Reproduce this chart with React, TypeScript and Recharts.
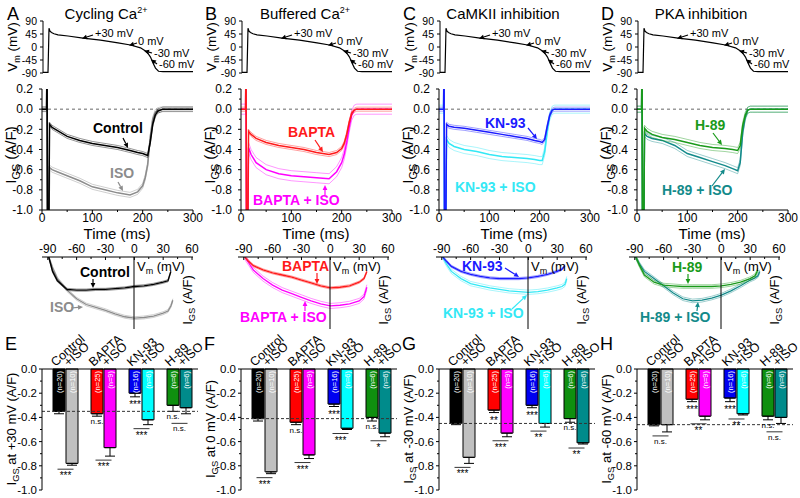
import React from 'react';
import { LineChart, Line, XAxis, YAxis, BarChart, Bar, Cell, ErrorBar, ReferenceLine, LabelList } from 'recharts';

const FONT = 'Arial, "Liberation Sans", Helvetica, sans-serif';

// ---------- action potential clamp waveform (same for all columns) ----------
const apTime = [0, 10, 12, 14, 17, 22, 30, 50, 80, 115, 150, 175, 195, 205, 210, 215, 220, 225, 231, 240, 300];
const apVm = [-88, -88, 65, 55, 50, 46, 42, 38, 31, 24, 14, 7, -3, -14, -22, -35, -55, -73, -84, -85, -85];

// ---------- I_GS time courses (A/F) ----------
const traceTime = [0, 9, 10, 11, 13, 15, 20, 30, 50, 75, 100, 125, 150, 175, 190, 200, 205, 210, 215, 220, 225, 230, 240, 260, 300];
const ctrlTrace = [0, 0, 0.5, -1.5, -1.5, -0.15, -0.18, -0.21, -0.27, -0.31, -0.34, -0.36, -0.38, -0.41, -0.43, -0.44, -0.45, -0.46, -0.33, -0.15, -0.06, -0.02, 0, 0, 0];
const isoTrace = [0, 0, 0.5, -1.5, -1.5, -0.58, -0.6, -0.62, -0.66, -0.71, -0.77, -0.8, -0.83, -0.85, -0.82, -0.76, -0.68, -0.55, -0.28, -0.1, -0.03, -0.01, 0, 0, 0];
const baptaTrace = [0, 0, 0.5, -1.5, -1.5, -0.22, -0.25, -0.29, -0.33, -0.36, -0.38, -0.4, -0.43, -0.45, -0.43, -0.39, -0.34, -0.25, -0.13, -0.04, -0.01, 0, 0, 0, 0];
const baptaIsoTrace = [0, 0, 0.5, -1.5, -1.5, -0.38, -0.45, -0.53, -0.6, -0.64, -0.66, -0.67, -0.68, -0.69, -0.62, -0.53, -0.45, -0.33, -0.18, -0.06, -0.01, 0, 0, 0, 0];
const knTrace = [0, 0, 0.5, -1.5, -1.5, -0.15, -0.17, -0.18, -0.19, -0.21, -0.23, -0.25, -0.27, -0.29, -0.31, -0.32, -0.33, -0.3, -0.17, -0.06, -0.01, 0, 0, 0, 0];
const knIsoTrace = [0, 0, 0.5, -1.5, -1.5, -0.3, -0.34, -0.37, -0.4, -0.42, -0.45, -0.47, -0.48, -0.49, -0.5, -0.51, -0.51, -0.42, -0.22, -0.07, -0.01, 0, 0, 0, 0];
const h89Trace = [0, 0, 0.5, -1.5, -1.5, -0.19, -0.22, -0.25, -0.28, -0.3, -0.33, -0.36, -0.38, -0.39, -0.4, -0.41, -0.36, -0.16, -0.06, -0.01, 0, 0, 0, 0, 0];
const h89IsoTrace = [0, 0, 0.5, -1.5, -1.5, -0.24, -0.27, -0.29, -0.31, -0.36, -0.44, -0.48, -0.52, -0.56, -0.59, -0.61, -0.53, -0.23, -0.08, -0.01, 0, 0, 0, 0, 0];

// ---------- I-V relations ----------
const ivVm = [40, 38, 35, 30, 20, 10, 0, -10, -20, -30, -40, -50, -60, -70, -80, -85, -89];
const ivCtrl = [null, -0.2, -0.33, -0.35, -0.38, -0.4, -0.41, -0.43, -0.44, -0.45, -0.45, -0.46, -0.46, -0.45, -0.33, -0.2, 0];
const ivIso = [-0.6, -0.68, -0.75, -0.78, -0.82, -0.84, -0.85, -0.83, -0.79, -0.74, -0.7, -0.66, -0.58, -0.46, -0.3, -0.15, 0];
const ivBapta = [null, -0.2, -0.3, -0.35, -0.4, -0.42, -0.43, -0.4, -0.36, -0.32, -0.28, -0.25, -0.22, -0.18, -0.12, -0.06, 0];
const ivBaptaIso = [null, -0.42, -0.55, -0.61, -0.65, -0.67, -0.68, -0.65, -0.61, -0.56, -0.51, -0.46, -0.39, -0.3, -0.18, -0.08, 0];
const ivKn = [null, -0.12, -0.17, -0.2, -0.24, -0.27, -0.29, -0.3, -0.3, -0.3, -0.29, -0.27, -0.24, -0.2, -0.13, -0.06, 0];
const ivKnIso = [-0.3, -0.38, -0.41, -0.43, -0.46, -0.48, -0.49, -0.48, -0.47, -0.45, -0.43, -0.4, -0.37, -0.3, -0.2, -0.1, 0];
const ivH89 = [null, -0.18, -0.26, -0.3, -0.35, -0.38, -0.4, -0.41, -0.41, -0.41, -0.41, -0.4, -0.39, -0.35, -0.25, -0.12, 0];
const ivH89Iso = [-0.2, -0.26, -0.29, -0.32, -0.4, -0.47, -0.53, -0.57, -0.6, -0.61, -0.58, -0.5, -0.4, -0.3, -0.2, -0.1, 0];

// ---------- bar summaries ----------
const barGroups = ['Control', 'BAPTA', 'KN-93', 'H-89'];
const nBase = [20, 25, 16, 6];
const nIso = [10, 9, 6, 6];

const p30Base = [-0.35, -0.37, -0.2, -0.3];
const p30BaseErr = [0.02, 0.02, 0.03, 0.05];
const p30Iso = [-0.78, -0.65, -0.42, -0.32];
const p30IsoErr = [0.015, 0.07, 0.04, 0.05];
const p30BaseSig = ['', 'n.s.', '***', 'n.s.'];
const p30IsoSig = ['***', '***', '***', 'n.s.'];

const z0Base = [-0.41, -0.44, -0.29, -0.4];
const z0BaseErr = [0.02, 0.02, 0.02, 0.03];
const z0Iso = [-0.85, -0.71, -0.49, -0.53];
const z0IsoErr = [0.015, 0.03, 0.01, 0.03];
const z0BaseSig = ['', 'n.s.', '***', 'n.s.'];
const z0IsoSig = ['***', '***', '***', '*'];

const m30Base = [-0.45, -0.34, -0.3, -0.41];
const m30BaseErr = [0.01, 0.02, 0.02, 0.03];
const m30Iso = [-0.73, -0.53, -0.45, -0.61];
const m30IsoErr = [0.05, 0.03, 0.03, 0.01];
const m30BaseSig = ['', '**', '***', 'n.s.'];
const m30IsoSig = ['***', '***', '**', '**'];

const m60Base = [-0.46, -0.25, -0.24, -0.39];
const m60BaseErr = [0.01, 0.02, 0.03, 0.03];
const m60Iso = [-0.46, -0.39, -0.37, -0.4];
const m60IsoErr = [0.06, 0.03, 0.01, 0.05];
const m60BaseSig = ['', '***', '***', 'n.s.'];
const m60IsoSig = ['n.s.', '**', '**', 'n.s.'];

const baseColors = ['#000000', '#ff0000', '#0000f0', '#0f8f0f'];
const isoColors = ['#c0c0c0', '#ff00ff', '#00ffff', '#008b8b'];

const apRows = apTime.map((t, i) => ({ t, v: apVm[i] }));

const traceRows = (a: number[], b: number[], ba: number, bb: number) =>
  traceTime.map((t, i) => ({ t, a: a[i], aHi: a[i] + ba, aLo: a[i] - ba, b: b[i], bHi: b[i] + bb, bLo: b[i] - bb }));

const ivRows = (a: (number | null)[], b: (number | null)[], ba: number, bb: number) =>
  ivVm.map((v, i) => ({
    v,
    a: a[i], aHi: a[i] == null ? null : (a[i] as number) + ba, aLo: a[i] == null ? null : (a[i] as number) - ba,
    b: b[i], bHi: b[i] == null ? null : (b[i] as number) + bb, bLo: b[i] == null ? null : (b[i] as number) - bb,
  }));

const barRows = (base: number[], baseErr: number[], iso: number[], isoErr: number[], baseSig: string[], isoSig: string[]) =>
  barGroups.map((grp, i) => ({
    grp, base: base[i], iso: iso[i], baseErr: baseErr[i], isoErr: isoErr[i],
    baseE: [baseErr[i], 0], isoE: [isoErr[i], 0], baseN: nBase[i], isoN: nIso[i],
    baseSig: baseSig[i], isoSig: isoSig[i],
  }));

const columns = [
  {
    off: 0, ivShift: 0, letter: 'A', letter2: 'E', title: 'Cycling Ca', sup: true, vLabel: '+30',
    tr: traceRows(ctrlTrace, isoTrace, 0.02, 0.025), iv: ivRows(ivCtrl, ivIso, 0.015, 0.02),
    cA: '#000000', cB: '#8c8c8c',
    bars: barRows(p30Base, p30BaseErr, p30Iso, p30IsoErr, p30BaseSig, p30IsoSig),
  },
  {
    off: 199, ivShift: -3, letter: 'B', letter2: 'F', title: 'Buffered Ca', sup: true, vLabel: '0',
    tr: traceRows(baptaTrace, baptaIsoTrace, 0.02, 0.05), iv: ivRows(ivBapta, ivBaptaIso, 0.015, 0.035),
    cA: '#ff1a1a', cB: '#ff00ff',
    bars: barRows(z0Base, z0BaseErr, z0Iso, z0IsoErr, z0BaseSig, z0IsoSig),
  },
  {
    off: 397, ivShift: -3, letter: 'C', letter2: 'G', title: 'CaMKII inhibition', sup: false, vLabel: '-30',
    tr: traceRows(knTrace, knIsoTrace, 0.02, 0.04), iv: ivRows(ivKn, ivKnIso, 0.015, 0.03),
    cA: '#1a1aff', cB: '#33e8f5',
    bars: barRows(m30Base, m30BaseErr, m30Iso, m30IsoErr, m30BaseSig, m30IsoSig),
  },
  {
    off: 595, ivShift: -8, letter: 'D', letter2: 'H', title: 'PKA inhibition', sup: false, vLabel: '-60',
    tr: traceRows(h89Trace, h89IsoTrace, 0.03, 0.03), iv: ivRows(ivH89, ivH89Iso, 0.025, 0.025),
    cA: '#1a9a1a', cB: '#138a8a',
    bars: barRows(m60Base, m60BaseErr, m60Iso, m60IsoErr, m60BaseSig, m60IsoSig),
  },
];

// ---------- tick renderers ----------
const tenths = (v: number) => (Math.round(v * 10) % 2 === 0 ? v.toFixed(1) : null);

const leftTick = (fmt: (v: number) => string | null, gap: number, size = 12) => (p: any) => {
  const v = p.payload.value;
  const ax = p.x + 5;
  const lab = fmt(v);
  return (
    <g>
      <line x1={ax - (lab !== null ? 3 : 2)} x2={ax} y1={p.y} y2={p.y} stroke="#000" strokeWidth={1} />
      {lab !== null && (
        <text x={ax - gap} y={p.y + size * 0.35} textAnchor="end" fontSize={size} fontFamily={FONT} fill="#000">{lab}</text>
      )}
    </g>
  );
};

const timeTick = (p: any) => {
  const v = p.payload.value;
  const ay = p.y - 5;
  const major = v % 100 === 0;
  return (
    <g>
      <line x1={p.x} x2={p.x} y1={ay} y2={ay + (major ? 3 : 2)} stroke="#000" />
      {major && <text x={p.x} y={ay + 12} textAnchor="middle" fontSize={12} fontFamily={FONT} fill="#000">{v}</text>}
    </g>
  );
};

const vmTick = (p: any) => {
  const v = p.payload.value;
  const ay = p.y + 5;
  const major = v % 30 === 0;
  return (
    <g>
      <line x1={p.x} x2={p.x} y1={ay} y2={ay + (major ? 3 : 2)} stroke="#000" />
      {major && <text x={p.x} y={ay - 4} textAnchor="middle" fontSize={12} fontFamily={FONT} fill="#000">{v}</text>}
    </g>
  );
};

const ivRightTick = (p: any) => {
  const v = p.payload.value;
  const ax = p.x - 5;
  const major = Math.abs(v * 2 - Math.round(v * 2)) < 1e-6;
  return (
    <g>
      <line x1={ax} x2={ax + (major ? 3 : 2)} y1={p.y} y2={p.y} stroke="#000" />
      {major && v !== 0 && (
        <text x={ax + 2} y={p.y + 4} fontSize={11} fontFamily={FONT} fill="#000">{v.toFixed(1)}</text>
      )}
    </g>
  );
};

const barTick = (p: any) => {
  const ay = p.y + 5;
  return (
    <g>
      <text transform={`translate(${p.x - 9.5},${ay - 2}) rotate(-42)`} fontSize={12.5} fontFamily={FONT} fill="#000">{p.payload.value}</text>
      <text transform={`translate(${p.x + 3.5},${ay - 2}) rotate(-42)`} fontSize={12.5} fontFamily={FONT} fill="#000">+ISO</text>
    </g>
  );
};

const nLabel = (p: any) => {
  const vb = p.viewBox ?? p;
  const top = Math.min(vb.y, vb.y + vb.height);
  const cx = vb.x + vb.width / 2;
  return (
    <text transform={`translate(${cx + 2.6},${top + 2}) rotate(-90)`} textAnchor="end" fontSize={7.5} fill="#fff" fontFamily={FONT}>
      {`(n=${p.value})`}
    </text>
  );
};

const sigLabel = (rows: any[], kind: 'base' | 'iso') => (p: any) => {
  const row = rows.find((r) => r.grp === p.value);
  if (!row) return null;
  const vb = p.viewBox ?? p;
  const top = Math.min(vb.y, vb.y + vb.height);
  const bot = Math.max(vb.y, vb.y + vb.height);
  const ppu = (bot - top) / Math.abs(kind === 'base' ? row.base : row.iso);
  const baseBottom = top + (Math.abs(row.base) + row.baseErr) * ppu;
  if (kind === 'base') {
    if (!row.baseSig) return null;
    const ns = row.baseSig === 'n.s.';
    return (
      <text x={vb.x + vb.width / 2} y={baseBottom + (ns ? 8 : 11)} textAnchor="middle" fontSize={ns ? 8 : 10} fontFamily={FONT} fill="#000">
        {row.baseSig}
      </text>
    );
  }
  const isoBottom = top + (Math.abs(row.iso) + row.isoErr) * ppu;
  const lineY = Math.max(isoBottom + 4, row.baseSig ? baseBottom + 12 : 0);
  const gx = vb.x - 0.5;
  const ns = row.isoSig === 'n.s.';
  return (
    <g>
      <line x1={gx - 8} x2={gx + 8} y1={lineY} y2={lineY} stroke="#000" strokeWidth={0.8} />
      <text x={gx} y={lineY + (ns ? 8 : 10)} textAnchor="middle" fontSize={ns ? 8 : 10} fontFamily={FONT} fill="#000">
        {row.isoSig}
      </text>
    </g>
  );
};

const seriesLines = (key: string, color: string, main = 1.5) => [
  <Line key={key + 'Hi'} dataKey={key + 'Hi'} stroke={color} strokeWidth={0.7} strokeOpacity={0.6} dot={false} activeDot={false} isAnimationActive={false} type="linear" />,
  <Line key={key + 'Lo'} dataKey={key + 'Lo'} stroke={color} strokeWidth={0.7} strokeOpacity={0.6} dot={false} activeDot={false} isAnimationActive={false} type="linear" />,
  <Line key={key} dataKey={key} stroke={color} strokeWidth={main} dot={false} activeDot={false} isAnimationActive={false} type="linear" />,
];

const Column = ({ c }: { c: any }) => (
  <>
    {/* membrane potential */}
    <div style={{ position: 'absolute', left: c.off, top: 0 }}>
      <LineChart width={198} height={80} data={apRows} margin={{ top: 21, right: 5, bottom: 7, left: 0 }}>
        <XAxis dataKey="t" type="number" domain={[0, 300]} hide />
        <YAxis type="number" domain={[-90, 90]} ticks={[90, 45, 0, -45, -90]} width={43} interval={0}
          tick={leftTick((v) => String(v), 6, 10.5)} tickLine={false} tickSize={3} tickMargin={2} axisLine={{ stroke: '#000' }} />
        <Line dataKey="v" stroke="#000" strokeWidth={1.2} dot={false} activeDot={false} isAnimationActive={false} type="linear" />
      </LineChart>
    </div>

    {/* gating current traces */}
    <div style={{ position: 'absolute', left: c.off, top: 80 }}>
      <LineChart width={198} height={146} data={c.tr} margin={{ top: 9, right: 5, bottom: 0, left: 0 }}>
        <XAxis dataKey="t" type="number" domain={[0, 300]} ticks={[0, 50, 100, 150, 200, 250, 300]} height={16} interval={0}
          tick={timeTick} tickLine={false} tickSize={3} tickMargin={2} axisLine={{ stroke: '#000' }} allowDataOverflow />
        <YAxis type="number" domain={[-1, 0.2]} width={42} interval={0} allowDataOverflow
          ticks={[0.2, 0.1, 0, -0.1, -0.2, -0.3, -0.4, -0.5, -0.6, -0.7, -0.8, -0.9, -1]}
          tick={leftTick(tenths, 9)} tickLine={false} tickSize={3} tickMargin={2} axisLine={{ stroke: '#000' }} />
        <ReferenceLine y={0} stroke="#666" strokeDasharray="3 3" />
        {seriesLines('b', c.cB)}
        {seriesLines('a', c.cA)}
      </LineChart>
    </div>

    {/* I-V relation */}
    <div style={{ position: 'absolute', left: c.off + c.ivShift, top: 233 }}>
      <LineChart width={198} height={100} data={c.iv} margin={{ top: 0, right: 5, bottom: 4, left: 42 }}>
        <XAxis dataKey="v" type="number" orientation="top" domain={[-96, 61]} height={24} interval={0} allowDataOverflow
          ticks={[-90, -75, -60, -45, -30, -15, 0, 15, 30, 45, 60]}
          tick={vmTick} tickLine={false} tickSize={3} tickMargin={2} axisLine={{ stroke: '#000' }} />
        <YAxis type="number" domain={[-1, 0]} hide allowDataOverflow />
        {seriesLines('b', c.cB, 1.3)}
        {seriesLines('a', c.cA, 1.3)}
      </LineChart>
    </div>
    <div style={{ position: 'absolute', left: c.off + c.ivShift + 120, top: 233 }}>
      <LineChart width={50} height={100} data={[{ v: 0 }]} margin={{ top: 24, right: 0, bottom: 4, left: 0 }}>
        <XAxis dataKey="v" type="number" domain={[0, 1]} hide />
        <YAxis orientation="right" type="number" domain={[-1, 0]} width={36} interval={0}
          ticks={[0, -0.25, -0.5, -0.75, -1]} tick={ivRightTick} tickLine={false} tickSize={3} tickMargin={2}
          axisLine={{ stroke: '#000' }} />
      </LineChart>
    </div>

    {/* summary bars */}
    <div style={{ position: 'absolute', left: c.off, top: 328 }}>
      <BarChart width={200} height={166} data={c.bars} margin={{ top: 0, right: 2, bottom: 4, left: 0 }} barGap={1} barSize={12}>
        <XAxis dataKey="grp" orientation="top" height={41} interval={0} padding={{ left: 4, right: 0 }}
          tick={barTick} tickLine={false} tickSize={3} tickMargin={2} axisLine={{ stroke: '#000' }} />
        <YAxis type="number" domain={[-1, 0]} width={42} interval={0}
          ticks={[0, -0.1, -0.2, -0.3, -0.4, -0.5, -0.6, -0.7, -0.8, -0.9, -1]}
          tick={leftTick(tenths, 5, 11.5)} tickLine={false} tickSize={3} tickMargin={2} axisLine={{ stroke: '#000' }} />
        <Bar dataKey="base" stroke="#000" strokeWidth={1} isAnimationActive={false}>
          {c.bars.map((r: any, i: number) => <Cell key={r.grp} fill={baseColors[i]} />)}
          <ErrorBar dataKey="baseE" width={5} stroke="#000" strokeWidth={1} direction="y" />
          <LabelList dataKey="baseN" content={nLabel} />
          <LabelList dataKey="grp" content={sigLabel(c.bars, 'base')} />
        </Bar>
        <Bar dataKey="iso" stroke="#000" strokeWidth={1} isAnimationActive={false}>
          {c.bars.map((r: any, i: number) => <Cell key={r.grp} fill={isoColors[i]} />)}
          <ErrorBar dataKey="isoE" width={5} stroke="#000" strokeWidth={1} direction="y" />
          <LabelList dataKey="isoN" content={nLabel} />
          <LabelList dataKey="grp" content={sigLabel(c.bars, 'iso')} />
        </Bar>
        <ReferenceLine y={c.bars[0].base} stroke="#333" strokeDasharray="3 2" />
      </BarChart>
    </div>
  </>
);

// ---------- annotation helpers ----------
const Arrow = ({ x1, y1, x2, y2, c = '#000' }: any) => {
  const a = Math.atan2(y2 - y1, x2 - x1);
  const L = 5, w = 2.4;
  const bx = x2 - L * Math.cos(a), by = y2 - L * Math.sin(a);
  const pts = `${x2},${y2} ${bx - w * Math.sin(a)},${by + w * Math.cos(a)} ${bx + w * Math.sin(a)},${by - w * Math.cos(a)}`;
  return (
    <g>
      <line x1={x1} y1={y1} x2={bx} y2={by} stroke={c} strokeWidth={1.2} />
      <polygon points={pts} fill={c} />
    </g>
  );
};

const T = ({ x, y, c = '#000', s = 14, b = false, a = 'start', children }: any) => (
  <text x={x} y={y} fill={c} fontSize={s} fontWeight={b ? 'bold' : 'normal'} textAnchor={a} fontFamily={FONT}>{children}</text>
);

const RotT = ({ x, y, s = 14, children }: any) => (
  <text transform={`translate(${x},${y}) rotate(-90)`} textAnchor="middle" fontSize={s} fontFamily={FONT} fill="#000">{children}</text>
);

const Igs = ({ s, tail }: { s: number; tail: string }) => (
  <>
    I<tspan fontSize={s * 0.72} dy={s * 0.25}>GS</tspan>
    <tspan dy={-s * 0.25}>{tail}</tspan>
  </>
);

const Overlay = () => (
  <svg width={800} height={498} style={{ position: 'absolute', left: 0, top: 0, pointerEvents: 'none' }}>
    {columns.map((c) => {
      const o = c.off;
      const io = c.off + c.ivShift;
      return (
        <g key={c.letter}>
          <T x={o + (c.letter === 'A' ? 7 : 6)} y={20} s={18}>{c.letter}</T>
          <text x={o + 106} y={19} textAnchor="middle" fontSize={15} fontFamily={FONT}>
            {c.title}
            {c.sup && <tspan fontSize={9} dy={-6}>2+</tspan>}
          </text>
          <RotT x={o + 17} y={47} s={13.5}>
            V<tspan fontSize={9} dy={3}>m</tspan><tspan dy={-3}> (mV)</tspan>
          </RotT>
          <T x={o + 95} y={37} s={11}>+30 mV</T>
          <Arrow x1={o + 93} y1={35} x2={o + 82} y2={38.5} />
          <T x={o + 138} y={45} s={11}>0 mV</T>
          <Arrow x1={o + 137} y1={43} x2={o + 129} y2={45.5} />
          <T x={o + 154} y={56.5} s={11}>-30 mV</T>
          <Arrow x1={o + 152} y1={53} x2={o + 144} y2={50.8} />
          <T x={o + 159} y={68} s={11}>-60 mV</T>
          <Arrow x1={o + 157} y1={64} x2={o + 151} y2={59.6} />

          <RotT x={o + 16} y={155} s={15}><Igs s={15} tail=" (A/F)" /></RotT>
          <T x={o + 117} y={239} s={15} a="middle">Time (ms)</T>

          <text x={io + 137} y={271} fontSize={13} fontFamily={FONT}>
            V<tspan fontSize={9} dy={3}>m</tspan><tspan dy={-3}> (mV)</tspan>
          </text>
          <RotT x={io + 192} y={300} s={13}><Igs s={13} tail=" (A/F)" /></RotT>

          <T x={o + 5} y={350} s={18}>{c.letter2}</T>
          <RotT x={o + 16} y={429} s={13}><Igs s={13} tail={` at ${c.vLabel} mV (A/F)`} /></RotT>
        </g>
      );
    })}

    {/* A */}
    <T x={93} y={133} b>Control</T>
    <Arrow x1={123} y1={138} x2={128} y2={148} />
    <T x={110} y={178} b c="#8c8c8c">ISO</T>
    <Arrow x1={118} y1={182} x2={123} y2={191} c="#8c8c8c" />
    <T x={80} y={277} b>Control</T>
    <Arrow x1={93} y1={279} x2={93} y2={288} />
    <T x={50} y={312} b c="#8c8c8c">ISO</T>
    <Arrow x1={71} y1={308} x2={83} y2={307} c="#8c8c8c" />

    {/* B */}
    <T x={288} y={137} b c="#ff1a1a">BAPTA</T>
    <Arrow x1={315} y1={140} x2={323} y2={152} c="#ff1a1a" />
    <T x={253} y={205} b c="#ff00ff">BAPTA + ISO</T>
    <Arrow x1={325} y1={195} x2={325} y2={185} c="#ff00ff" />
    <T x={282} y={271} b c="#ff1a1a">BAPTA</T>
    <Arrow x1={317} y1={273} x2={317} y2={284} c="#ff1a1a" />
    <T x={240} y={322} b c="#ff00ff">BAPTA + ISO</T>
    <Arrow x1={305} y1={311} x2={305} y2={301} c="#ff00ff" />

    {/* C */}
    <T x={485} y={128} b c="#1a1aff">KN-93</T>
    <Arrow x1={528} y1={128} x2={537} y2={139} c="#1a1aff" />
    <T x={455} y={192} b c="#33e8f5">KN-93 + ISO</T>
    <T x={462} y={271} b c="#1a1aff">KN-93</T>
    <Arrow x1={505} y1={268} x2={519} y2={277} c="#1a1aff" />
    <T x={443} y={318} b c="#33e8f5">KN-93 + ISO</T>
    <Arrow x1={512} y1={309} x2={527} y2={295} c="#33e8f5" />

    {/* D */}
    <T x={695} y={130} b c="#1a9a1a">H-89</T>
    <Arrow x1={713} y1={133} x2={722} y2={145} c="#1a9a1a" />
    <T x={662} y={195} b c="#138a8a">H-89 + ISO</T>
    <Arrow x1={712} y1={186} x2={725} y2={169} c="#138a8a" />
    <T x={672} y={272} b c="#1a9a1a">H-89</T>
    <Arrow x1={688} y1={274} x2={688} y2={284} c="#1a9a1a" />
    <T x={640} y={322} b c="#138a8a">H-89 + ISO</T>
    <Arrow x1={697} y1={311} x2={698} y2={302} c="#138a8a" />
  </svg>
);

export default function App() {
  return (
    <div style={{ position: 'absolute', left: 0, top: 0, width: 800, height: 498, background: '#fff', overflow: 'hidden', fontFamily: FONT }}>
      <style>{`svg { overflow: visible; }`}</style>
      {columns.map((c) => <Column key={c.letter} c={c} />)}
      <Overlay />
    </div>
  );
}
